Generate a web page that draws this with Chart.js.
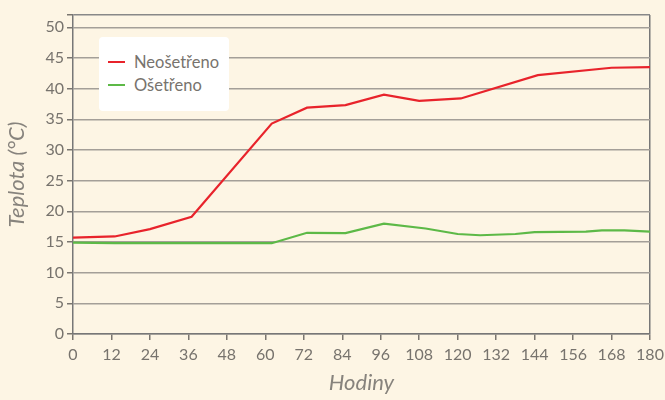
<!DOCTYPE html>
<html>
<head>
<meta charset="utf-8">
<script src="https://cdn.jsdelivr.net/npm/chart.js@4"></script>
<style>
  html, body { margin: 0; padding: 0; background: #fdf5e4; }
  #wrap { position: relative; width: 665px; height: 400px; }
  #legend {
    position: absolute; left: 99px; top: 37px; width: 130px; height: 74px;
    background: #ffffff; border-radius: 4px; box-sizing: border-box; padding-top: 13px;
    font-family: Lato, "Open Sans", sans-serif; font-size: 16.5px; color: #77736d;
  }
  .item { display: flex; align-items: center; height: 23px; padding-left: 9px; }
  .swatch { width: 17px; height: 2px; margin-right: 9px; }
</style>
</head>
<body>
<div id="wrap">
  <canvas id="chart" width="665" height="400"></canvas>
  <div id="legend"></div>
</div>
<script>
// hours
const neosetrenoHours = [0, 13, 24, 37, 62, 73, 85, 97, 108, 121, 145, 168, 180];
const neosetrenoTemps = [15.7, 15.9, 17.1, 19.1, 34.3, 36.9, 37.3, 39.0, 38.0, 38.4, 42.2, 43.4, 43.5];

const osetrenoHours = [0, 13, 62, 73, 85, 97, 110, 120, 127, 138, 144, 160, 165, 172, 180];
const osetrenoTemps = [14.9, 14.8, 14.8, 16.5, 16.45, 18.0, 17.2, 16.3, 16.1, 16.3, 16.6, 16.7, 16.9, 16.9, 16.7];

const seriesLabels = ["Neošetřeno", "Ošetřeno"];
const seriesColors = ["#e8232b", "#5db947"];

const xTicks = [0, 12, 24, 36, 48, 60, 72, 84, 96, 108, 120, 132, 144, 156, 168, 180];
const yTicks = [0, 5, 10, 15, 20, 25, 30, 35, 40, 45, 50];

const textColor = "#77736d";
const titleColor = "#87837d";
const gridColor = "#a49f98";
const fontFamily = "Lato, 'Open Sans', sans-serif";

function toPoints(xs, ys) {
    return xs.map((x, i) => ({ x: x, y: ys[i] }));
}

const ctx = document.getElementById("chart").getContext("2d");
const chart = new Chart(ctx, {
    type: "line",
    data: {
        datasets: [
            {
                label: seriesLabels[0],
                data: toPoints(neosetrenoHours, neosetrenoTemps),
                borderColor: seriesColors[0],
                borderWidth: 2.2,
                pointRadius: 0,
                tension: 0,
                fill: false
            },
            {
                label: seriesLabels[1],
                data: toPoints(osetrenoHours, osetrenoTemps),
                borderColor: seriesColors[1],
                borderWidth: 2.2,
                pointRadius: 0,
                tension: 0,
                fill: false
            }
        ]
    },
    options: {
        responsive: false,
        animation: false,
        layout: { padding: { left: 0, right: 15, top: 15, bottom: 0 } },
        plugins: {
            legend: { display: false },
            tooltip: { enabled: false }
        },
        scales: {
            x: {
                type: "linear",
                min: 0,
                max: 180,
                afterBuildTicks: axis => { axis.ticks = xTicks.map(v => ({ value: v })); },
                afterFit: axis => {
                    axis.height = 66;
                    axis.paddingLeft = 0;
                    axis.paddingRight = 0;
                },
                ticks: {
                    color: textColor,
                    font: { family: fontFamily, size: 16 },
                    padding: 5,
                    maxRotation: 0,
                    autoSkip: false
                },
                grid: {
                    drawOnChartArea: true,
                    color: c => (c.tick && c.tick.value === 180 ? "#777" : "transparent"),
                    lineWidth: 1.5,
                    tickColor: "#7a7670",
                    tickLength: 6
                },
                border: { color: "#777", width: 1.5 },
                title: {
                    display: true,
                    text: "Hodiny",
                    color: titleColor,
                    font: { family: fontFamily, size: 22, style: "italic" },
                    padding: { top: 1 }
                }
            },
            y: {
                min: 0,
                max: 52,
                afterBuildTicks: axis => {
                    axis.ticks = yTicks.map(v => ({ value: v })).concat([{ value: 52 }]);
                },
                afterFit: axis => {
                    axis.width = 73;
                    axis.paddingTop = 0;
                    axis.paddingBottom = 0;
                },
                ticks: {
                    color: textColor,
                    font: { family: fontFamily, size: 16 },
                    padding: 3,
                    callback: v => (v === 52 ? "" : v)
                },
                grid: {
                    color: c => (c.tick && c.tick.value === 52 ? "#888" : gridColor),
                    lineWidth: 1.5,
                    tickColor: "#7a7670",
                    tickLength: 6
                },
                border: { color: "#777", width: 1.5 },
                title: {
                    display: true,
                    text: "Teplota (°C)",
                    color: titleColor,
                    font: { family: fontFamily, size: 22, style: "italic" },
                    padding: { bottom: 0 }
                }
            }
        }
    }
});

// legend built from the datasets
const legendBox = document.getElementById("legend");
chart.data.datasets.forEach(ds => {
    const item = document.createElement("div");
    item.className = "item";
    item.innerHTML = `<span class="swatch" style="background:${ds.borderColor}"></span><span>${ds.label}</span>`;
    legendBox.appendChild(item);
});
</script>
</body>
</html>
